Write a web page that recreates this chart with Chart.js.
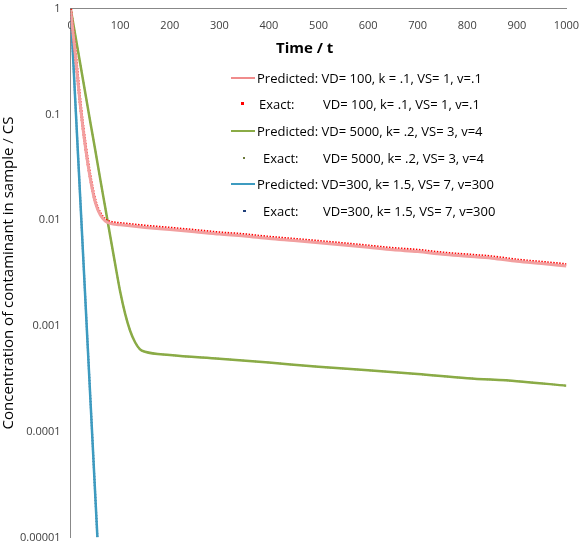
<!DOCTYPE html>
<html><head><meta charset="utf-8">
<script src="https://cdn.jsdelivr.net/npm/chart.js@4"></script>
<style>
body{margin:0;background:#fff;font-family:"Open Sans",sans-serif}
#wrap{position:relative;width:582px;height:546px}
.t{position:absolute;font-size:13px;color:#000;white-space:nowrap;line-height:16px}
.ln{position:absolute;width:24px;height:2px}
.dt{position:absolute}
</style></head><body>
<div id="wrap"><canvas id="c" width="582" height="546"></canvas>
<div class="t" style="left:276px;top:39px;font-weight:bold;font-size:15px">Time / t</div>
<div class="ln" style="left:231px;top:77px;background:#f08c8c"></div>
<div class="t" style="left:257px;top:70px">Predicted: VD= 100, k = .1, VS= 1, v=.1</div>
<div class="dt" style="left:241px;top:102px;width:3px;height:3px;background:#ff0000"></div>
<div class="t" style="left:259px;top:96px">Exact:</div><div class="t" style="left:323px;top:96px">VD= 100, k= .1, VS= 1, v=.1</div>
<div class="ln" style="left:231px;top:130px;background:#8aab46"></div>
<div class="t" style="left:257px;top:123px">Predicted: VD= 5000, k= .2, VS= 3, v=4</div>
<div class="dt" style="left:243px;top:157px;width:2px;height:2px;background:#6b7a3a"></div>
<div class="t" style="left:263px;top:150px">Exact:</div><div class="t" style="left:323px;top:150px">VD= 5000, k= .2, VS= 3, v=4</div>
<div class="ln" style="left:231px;top:183px;background:#3d9bc0"></div>
<div class="t" style="left:257px;top:176px">Predicted: VD=300, k= 1.5, VS= 7, v=300</div>
<div class="dt" style="left:243px;top:210px;width:3px;height:2px;background:#1f3f7a"></div>
<div class="t" style="left:263px;top:203px">Exact:</div><div class="t" style="left:323px;top:203px">VD=300, k= 1.5, VS= 7, v=300</div>
</div>
<script>
const redT = [0,5,10,20,30,40,50,60,70,80,90,100,150,200,250,300,350,400,450,500,550,600,650,700,750,800,850,900,950,1000];
const redV = [1,0.6,0.36,0.12,0.05,0.025,0.015,0.0115,0.0101,0.0096,0.0094,0.0093,0.0088,0.0084,0.0080,0.0076,0.0073,0.0069,0.0066,0.0063,0.0060,0.0057,0.0054,0.0052,0.0049,0.0047,0.0045,0.0042,0.0040,0.0038];
const greenT = [0,10,20,30,40,50,60,70,80,90,100,110,120,130,140,150,200,300,400,500,600,700,800,900,1000];
const greenV = [1,0.54,0.29,0.155,0.083,0.045,0.024,0.013,0.007,0.0038,0.0021,0.0013,0.0009,0.0007,0.0006,0.00057,0.00053,0.00049,0.00045,0.00041,0.00038,0.00035,0.00032,0.00030,0.000272];
const blueT = [0,10,20,30,40,50,54];
const blueV = [1,0.118,0.0141,0.00167,0.000197,0.0000234,0.00001];
const yTicks = [1,0.1,0.01,0.001,0.0001,0.00001];
const pts = (t,v)=>t.map((x,i)=>({x:x,y:v[i]}));
const ds = (t,v,color,w,dash)=>({data:pts(t,v),borderColor:color,borderWidth:w,borderDash:dash||[],pointRadius:0,showLine:true,fill:false,cubicInterpolationMode:'monotone'});
new Chart(document.getElementById('c'),{
 type:'scatter',
 data:{datasets:[
  ds(redT,redV.map(v=>v*0.97),'#f2a0a0',3),
  ds(redT,redV,'#ff0000',3,[1.5,1.5]),
  ds(greenT,greenV,'#8aab46',2.5),
  ds(greenT,greenV,'#4a5a28',1.5,[1,1.5]),
  ds(blueT,blueV,'#3d9bc0',2.5),
  ds(blueT,blueV,'#1f3f7a',2,[1,2])
 ]},
 options:{responsive:false,animation:false,
  layout:{padding:{top:3,right:15,bottom:4,left:0}},
  plugins:{legend:{display:false},tooltip:{enabled:false}},
  scales:{
   y:{type:'logarithmic',min:0.00001,max:1,
     afterBuildTicks:s=>{s.ticks=yTicks.map(v=>({value:v}));},
     ticks:{callback:v=>String(v),color:'#404040',padding:2,font:{size:11,family:'Open Sans'}},
     grid:{display:false},border:{color:'#888'},
     title:{display:true,text:'Concentration of contaminant in sample / CS',color:'#000',padding:0,font:{size:15,family:'Open Sans'}}},
   x:{type:'linear',min:0,max:1000,position:{y:1},
     ticks:{stepSize:100,callback:v=>String(v),color:'#404040',font:{size:11,family:'Open Sans'}},
     grid:{display:false},border:{color:'#888'}}
  }}
});
</script></body></html>
